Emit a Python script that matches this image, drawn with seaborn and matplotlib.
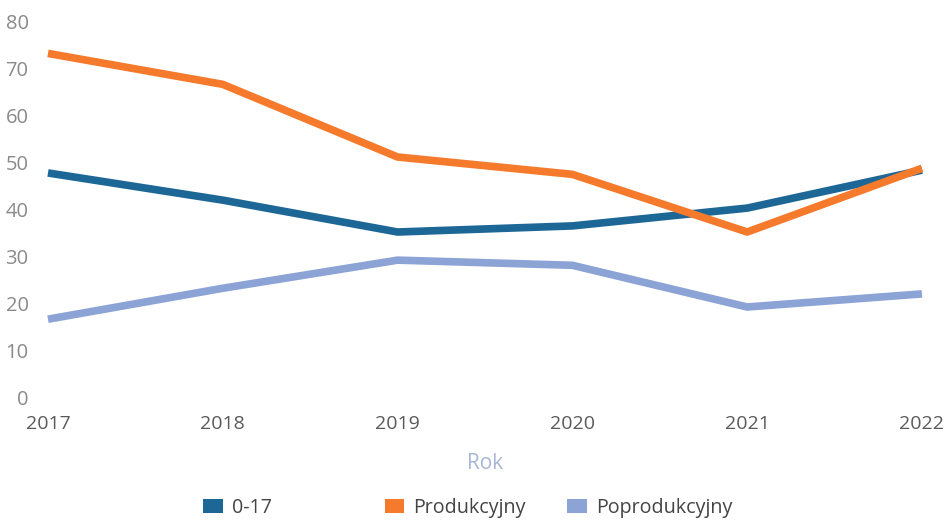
import matplotlib
matplotlib.use('Agg')
import matplotlib.pyplot as plt
from matplotlib.patches import Patch
import seaborn as sns
import pandas as pd

years = [2017, 2018, 2019, 2020, 2021, 2022]
series_names = ['0-17', 'Produkcyjny', 'Poprodukcyjny']
vals_0_17 = [47.8, 42.0, 35.2, 36.5, 40.3, 48.4]
vals_prod = [73.3, 66.7, 51.2, 47.5, 35.2, 48.8]
vals_poprod = [16.6, 23.2, 29.2, 28.1, 19.2, 22.0]
y_ticks = [0, 10, 20, 30, 40, 50, 60, 70, 80]

colors = {'0-17': '#1D6797', 'Produkcyjny': '#F57A2C', 'Poprodukcyjny': '#8CA3D6'}

df = pd.DataFrame({
    'Rok': years * 3,
    'value': vals_0_17 + vals_prod + vals_poprod,
    'series': [s for s in series_names for _ in years],
})

sns.set_style('white')
plt.rcParams['font.family'] = ['Open Sans', 'DejaVu Sans']

fig = plt.figure(figsize=(9.5, 5.2), dpi=100)
ax = fig.add_axes([0.0505, 0.2365, 0.92, 0.7212])

sns.lineplot(data=df, x='Rok', y='value', hue='series', hue_order=series_names,
             palette=colors, linewidth=5.5, legend=False, ax=ax)

for line in ax.lines:
    line.set_solid_capstyle('butt')
    line.set_clip_on(False)

ax.set_xlim(2017, 2022)
ax.set_ylim(0, 80)
ax.set_xticks(years)
ax.set_xticklabels([str(y) for y in years])
ax.set_yticks(y_ticks)
ax.tick_params(axis='y', length=0, pad=14, labelsize=14.5, labelcolor='#8A8A8A')
ax.tick_params(axis='x', length=0, pad=13, labelsize=14, labelcolor='#5A5A5A')
sns.despine(ax=ax, left=True, bottom=True)
ax.set_ylabel('')
ax.set_xlabel('Rok', fontsize=15, color='#A8B6DA', labelpad=14)

legend_x = [0.214, 0.405, 0.597]
for name, x in zip(series_names, legend_x):
    handle = Patch(facecolor=colors[name], edgecolor='none')
    fig.legend(handles=[handle], labels=[name], loc='center left',
               bbox_to_anchor=(x, 0.023), frameon=False, fontsize=14.2,
               labelcolor='#444444', handlelength=1.0, handleheight=0.7,
               handletextpad=0.45, borderaxespad=0, borderpad=0)

fig.savefig('out.png', dpi=100)
